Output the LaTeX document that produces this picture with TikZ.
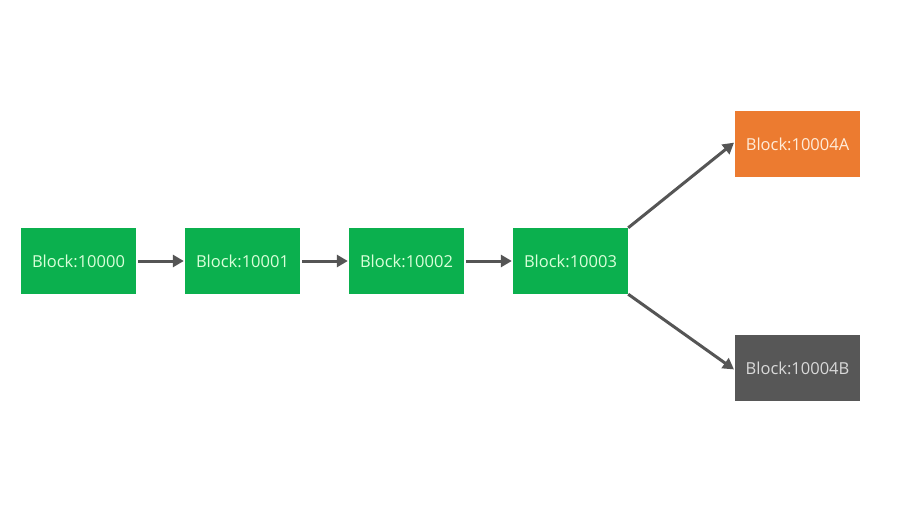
\documentclass[tikz,border=0pt]{standalone}
\usepackage{fontspec}
\setmainfont{Open Sans}
\usetikzlibrary{arrows.meta}

\definecolor{blockgreen}{HTML}{0BB04E}
\definecolor{blockorange}{HTML}{EC7B30}
\definecolor{blockgray}{HTML}{575757}
\definecolor{linkgray}{HTML}{555555}

\tikzset{
    block/.style={minimum width=115pt, minimum height=66pt, inner sep=0pt,
        font=\fontsize{16.5}{18}\selectfont},
    link/.style={draw=linkgray, line width=3pt,
        -{Triangle[length=11pt,width=12pt]}, shorten >=1pt}
}

\begin{document}
\begin{tikzpicture}[x=1pt,y=-1pt]
    \useasboundingbox[fill=white] (0,0) rectangle (912,522);

    \node[block, fill=blockgreen, text=green!15] (b0) at (78.5,261) {Block:10000};
    \node[block, fill=blockgreen, text=green!15] (b1) at (242.5,261) {Block:10001};
    \node[block, fill=blockgreen, text=green!15] (b2) at (406.5,261) {Block:10002};
    \node[block, fill=blockgreen, text=green!15] (b3) at (570.5,261) {Block:10003};

    \node[block, minimum width=125pt, fill=blockorange, text=orange!15] (b4a) at (797.5,144) {Block:10004A};
    \node[block, minimum width=125pt, fill=blockgray, text=white!85!black] (b4b) at (797.5,368) {Block:10004B};

    \draw[link] ([xshift=2pt]b0.east) -- (b1.west);
    \draw[link] ([xshift=2pt]b1.east) -- (b2.west);
    \draw[link] ([xshift=2pt]b2.east) -- (b3.west);
    \draw[link] (b3.north east) -- ([yshift=2pt]b4a.west);
    \draw[link] (b3.south east) -- ([yshift=-2pt]b4b.west);
\end{tikzpicture}
\end{document}
